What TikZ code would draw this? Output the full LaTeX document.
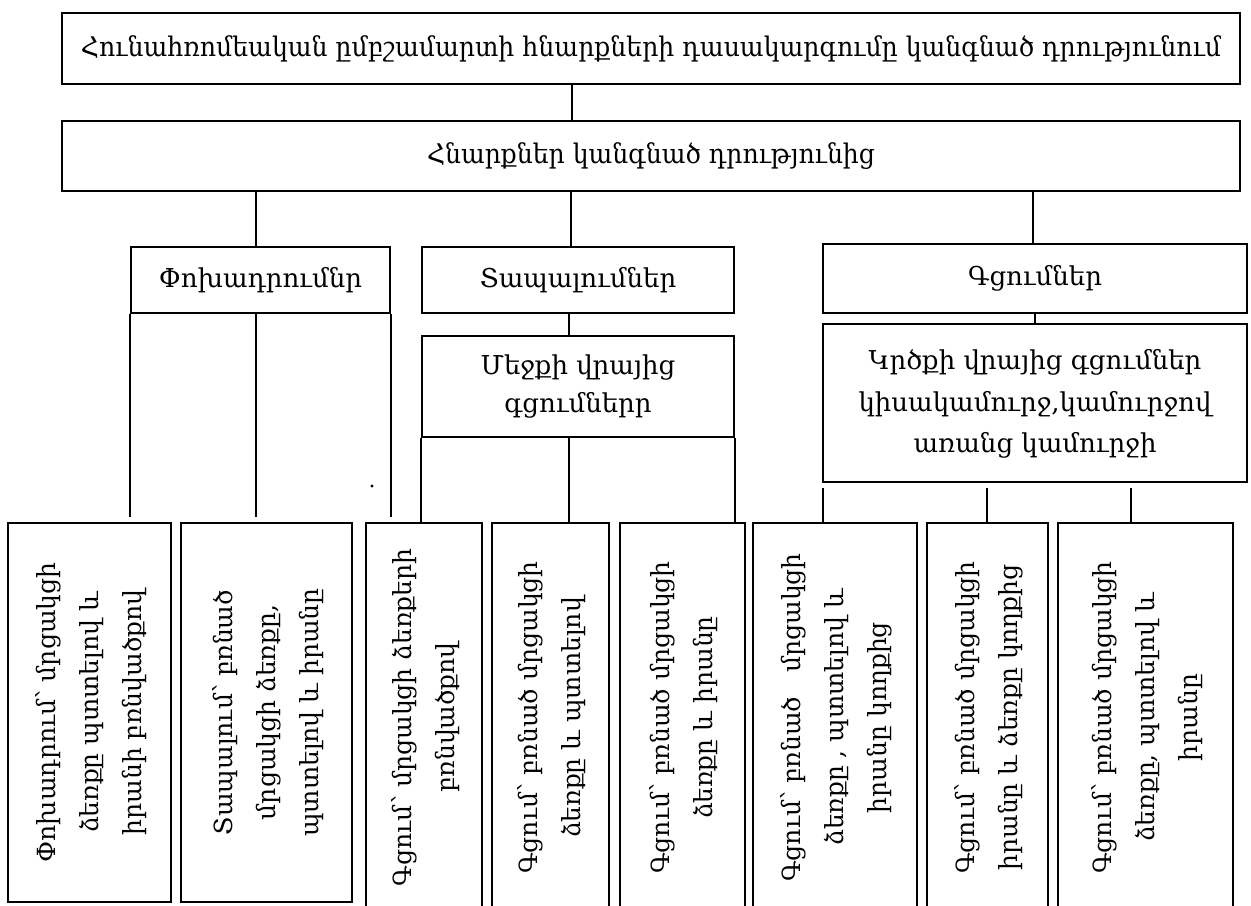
\documentclass[tikz,border=0pt]{standalone}
\usepackage{fontspec}
\setmainfont{DejaVu Serif}
\usetikzlibrary{calc}
\tikzset{
  box/.style={draw, line width=1pt, inner sep=0pt, align=center},
  conn/.style={line width=0.7pt},
}
\newcommand{\vtext}[1]{\rotatebox{90}{\fontsize{12.5}{21.5}\selectfont\begin{tabular}{@{}c@{}}#1\end{tabular}}}
\begin{document}
\begin{tikzpicture}[x=0.5pt,y=-0.5pt,font=\fontsize{13}{21.5}\selectfont]
\useasboundingbox (0,0) rectangle (1251,905);
\clip (0,0) rectangle (1251,905);
% upper boxes
\node[box, minimum width=589pt, minimum height=35.5pt, font=\fontsize{13.5}{16}\selectfont] (T) at (651,48.5) {\resizebox{570pt}{\height}{Հունահռոմեական ըմբշամարտի հնարքների դասակարգումը կանգնած դրությունում}};
\node[box, minimum width=589pt, minimum height=35pt, font=\fontsize{13.5}{16}\selectfont] (S) at (651,156) {\resizebox{224pt}{\height}{Հնարքներ կանգնած դրությունից}};
\node[box, minimum width=129.5pt, minimum height=33pt] (P) at (260.5,280) {Փոխադրումնր};
\node[box, minimum width=156pt, minimum height=33pt] (Tp) at (578,280) {Տապալումներ};
\node[box, minimum width=212pt, minimum height=34.5pt] (G) at (1035,278.5) {Գցումներ};
\node[box, minimum width=156pt, minimum height=50.5pt, font=\fontsize{13}{19}\selectfont] (M) at (578,386.5) {Մեջքի վրայից\\գցումներր};
\node[box, minimum width=212pt, minimum height=79pt, font=\fontsize{13}{20.75}\selectfont] (K) at (1035,403) {\raisebox{-1.5pt}{\begin{tabular}{@{}c@{}}Կրծքի վրայից գցումներ\\կիսակամուրջ,կամուրջով\\առանց կամուրջի\end{tabular}}};
% bottom boxes
\node[box, minimum width=81.5pt, minimum height=189.5pt] (B1) at (89.5,712.5) {\vtext{Փոխադրում՝ մրցակցի\\ձեռքը պտտելով և\\իրանի բռնվածքով}};
\node[box, minimum width=85.5pt, minimum height=189.5pt] (B2) at (266.5,712.5) {\vtext{Տապալում՝ բռնած\\մրցակցի ձեռքը,\\պտտելով և իրանը}};
\node[box, minimum width=58pt, minimum height=194.5pt] (B3) at (424,717.5) {\vtext{Գցում՝ մրցակցի ձեռքերի\\բռնվածքով}};
\node[box, minimum width=58.5pt, minimum height=194.5pt] (B4) at (550.5,717.5) {\vtext{Գցում՝ բռնած մրցակցի\\ձեռքը և պտտելով}};
\node[box, minimum width=62.5pt, minimum height=194.5pt] (B5) at (682.5,717.5) {\vtext{Գցում՝ բռնած մրցակցի\\ձեռքը և իրանը}};
\node[box, minimum width=82pt, minimum height=194.5pt] (B6) at (835,717.5) {\vtext{Գցում՝ բռնած \ \ մրցակցի\\ձեռքը , պտտելով և\\իրանը կողքից}};
\node[box, minimum width=60.5pt, minimum height=194.5pt] (B7) at (987.5,717.5) {\vtext{Գցում՝ բռնած մրցակցի\\իրանը և ձեռքը կողքից}};
\node[box, minimum width=87.5pt, minimum height=194.5pt] (B8) at (1145.5,717.5) {\vtext{Գցում՝ բռնած մրցակցի\\ձեռքը, պտտելով և\\իրանը}};
% connector x positions
\coordinate (xTS) at (572,0);
\coordinate (xP) at (256,0);
\coordinate (xTp) at (571,0);
\coordinate (xG) at (1033,0);
\coordinate (xM) at (569,0);
\coordinate (xK1) at (823,0);
\coordinate (xK2) at (987,0);
\coordinate (xK3) at (1131,0);
% connectors
\draw[conn] (T.south -| xTS) -- (S.north -| xTS);
\draw[conn] (S.south -| xP) -- (P.north -| xP);
\draw[conn] (S.south -| xTp) -- (Tp.north -| xTp);
\draw[conn] (S.south -| xG) -- (G.north -| xG);
\draw[conn] (Tp.south -| xM) -- (M.north -| xM);
\draw[conn] (G.south) -- (K.north);
\draw[conn, shorten >=2.5pt] (P.south west) -- (P.south west |- B1.north);
\draw[conn, shorten >=2.5pt] (P.south -| xP) -- (B2.north -| xP);
\draw[conn, shorten >=2.5pt] (P.south east) -- (P.south east |- B3.north);
\draw[conn] (M.south west) -- (M.south west |- B3.north);
\draw[conn] (M.south -| xM) -- (B4.north -| xM);
\draw[conn] (M.south east) -- (M.south east |- B5.north);
\draw[conn, shorten <=2.5pt] (K.south -| xK1) -- (B6.north -| xK1);
\draw[conn, shorten <=2.5pt] (K.south -| xK2) -- (B7.north -| xK2);
\draw[conn, shorten <=2.5pt] (K.south -| xK3) -- (B8.north -| xK3);
\fill (372,486) circle (0.8pt);
\end{tikzpicture}
\end{document}
